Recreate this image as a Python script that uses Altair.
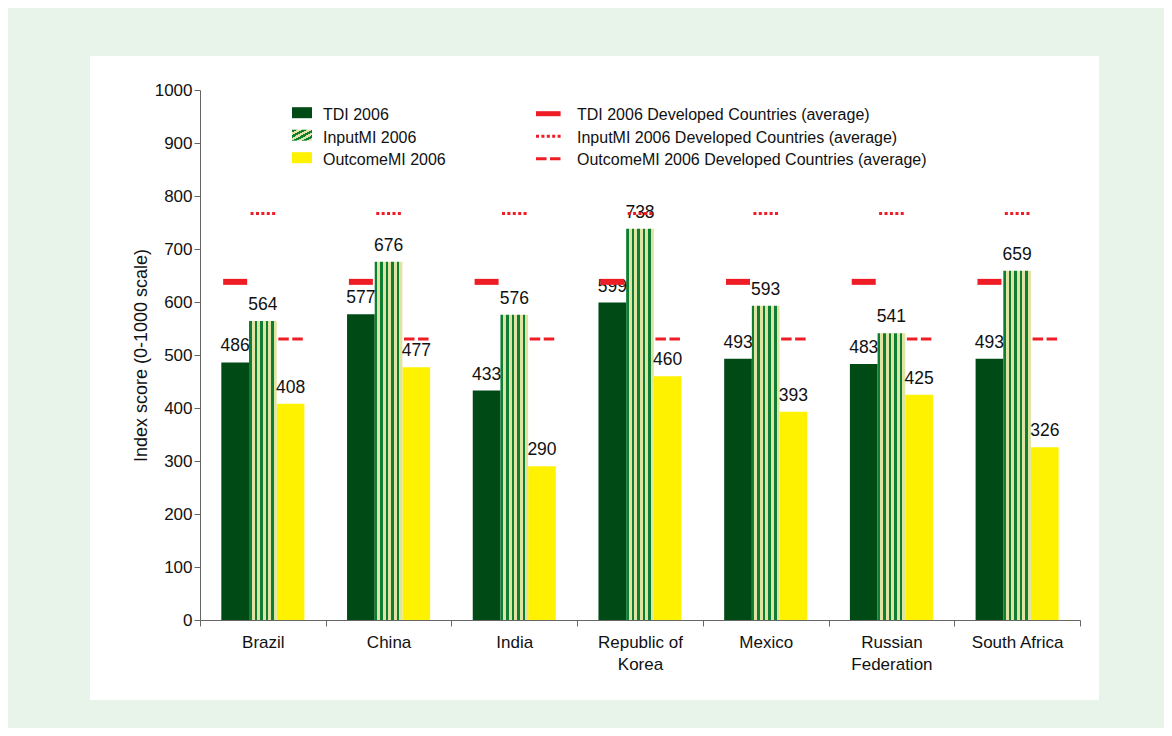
import altair as alt
import pandas as pd

# ---------------- data ----------------
countries = ["Brazil", "China", "India", "Republic of Korea", "Mexico",
             "Russian Federation", "South Africa"]
series = ["TDI 2006", "InputMI 2006", "OutcomeMI 2006"]
tdi = [486, 577, 433, 599, 493, 483, 493]
inputmi = [564, 676, 576, 738, 593, 541, 659]
outcomemi = [408, 477, 290, 460, 393, 425, 326]
dev_series = ["TDI 2006 Developed Countries (average)",
              "InputMI 2006 Developed Countries (average)",
              "OutcomeMI 2006 Developed Countries (average)"]
dev_values = [638, 767, 530]
y_ticks = list(range(0, 1001, 100))

# ---------------- style ----------------
W, H = 880, 530
PAD = 0.77
FONT = "Liberation Sans"
RED = "#ee1c25"
DARK = "#004b15"
YELLOW = "#fff200"
STRIPE = "#0f7d33"
PALE = "#dfe4a3"
TXT = "#111111"
AXC = "#666666"

rows = []
for i, c in enumerate(countries):
    for s, vals in zip(series, [tdi, inputmi, outcomemi]):
        rows.append({"country": c, "series": s, "value": vals[i]})
bars_df = pd.DataFrame(rows)
dev_df = pd.DataFrame([{"country": c, "series": s, "value": v}
                       for c in countries for s, v in zip(dev_series, dev_values)])
one = pd.DataFrame({"k": [0]})


def stripes(n, frac, x2, y2):
    stops = []
    for k in range(n):
        a = k / n
        b = a + frac / n
        e = (k + 1) / n
        stops += [alt.GradientStop(offset=a, color=STRIPE),
                  alt.GradientStop(offset=b, color=STRIPE),
                  alt.GradientStop(offset=b, color=PALE),
                  alt.GradientStop(offset=e, color=PALE)]
    return alt.LinearGradient(gradient="linear", stops=stops, x1=0, y1=0, x2=x2, y2=y2)


label_expr = ("datum.label == 'Republic of Korea' ? ['Republic of', 'Korea'] : "
              "datum.label == 'Russian Federation' ? ['Russian', 'Federation'] : datum.label")

x_scale = alt.Scale(domain=countries, paddingInner=0, paddingOuter=0)
x_axis = alt.Axis(tickBand="extent", labelExpr=label_expr, labelAngle=0, labelPadding=8,
                  labelLineHeight=22, tickSize=6, domainColor=AXC, tickColor=AXC,
                  labelFontSize=17, labelColor=TXT, labelFont=FONT, zindex=1, title=None)
y_scale = alt.Scale(domain=[0, 1000], nice=False)
y_axis = alt.Axis(values=y_ticks, format="d", grid=False, title="Index score (0-1000 scale)",
                  tickSize=6, domainColor=AXC, tickColor=AXC, labelFontSize=17,
                  labelColor=TXT, labelFont=FONT, titleFont=FONT, titleFontSize=18,
                  titleFontWeight="normal", titleColor=TXT, titlePadding=4, zindex=1)

X = alt.X("country:N", scale=x_scale, axis=x_axis)
XO = alt.XOffset("series:N", scale=alt.Scale(domain=series, paddingInner=0, paddingOuter=PAD))
Y = alt.Y("value:Q", scale=y_scale, axis=y_axis)

panel = alt.Chart(one).mark_rect(color="white").encode(
    x=alt.value(-110), x2=alt.value(899), y=alt.value(-34), y2=alt.value(610))

base = alt.Chart(bars_df)
solid_bars = base.transform_filter(
    alt.FieldOneOfPredicate(field="series", oneOf=[series[0], series[2]])
).mark_bar().encode(
    x=X, xOffset=XO, y=Y,
    color=alt.Color("series:N", scale=alt.Scale(domain=series, range=[DARK, STRIPE, YELLOW]),
                    legend=None))
striped_bars = base.transform_filter(
    alt.FieldEqualPredicate(field="series", equal=series[1])
).mark_bar(fill=stripes(5, 0.46, 1, 0)).encode(x=X, xOffset=XO, y=Y)

labels = base.mark_text(dy=-11, baseline="alphabetic", fontSize=17.5, font=FONT,
                        color=TXT).encode(x=X, xOffset=XO, y=Y, text="value:Q")

step_frac = 1.0 / (3 + 2 * PAD)
step_px = W / len(countries)
rule_styles = [
    dict(strokeWidth=6, half=12.0),
    dict(strokeWidth=3, strokeDash=[3, 2.4], half=12.3),
    dict(strokeWidth=3, strokeDash=[10.5, 3.5], half=12.25),
]
rule_layers = []
for j, (s, st) in enumerate(zip(dev_series, rule_styles)):
    c = (PAD + j + 0.5) * step_frac
    hw = st["half"] / step_px
    kw = {k: v for k, v in st.items() if k != "half"}
    rule_layers.append(
        alt.Chart(dev_df).transform_filter(alt.FieldEqualPredicate(field="series", equal=s))
        .mark_rule(color=RED, **kw)
        .encode(x=alt.X("country:N", scale=x_scale, axis=x_axis, bandPosition=c - hw),
                x2=alt.X2("country", bandPosition=c + hw),
                y=Y))

# ---------------- legend (manual, two columns) ----------------
legend_layers = []
row0, row_gap = 22.7, 22.5
swatch_fills = [DARK, stripes(4, 0.5, 1, 1), YELLOW]
for i, s in enumerate(series):
    yc = row0 + i * row_gap
    legend_layers.append(alt.Chart(one).mark_rect(fill=swatch_fills[i]).encode(
        x=alt.value(92), x2=alt.value(112), y=alt.value(yc - 5.5), y2=alt.value(yc + 5.5)))
    legend_layers.append(alt.Chart(one).mark_text(
        align="left", baseline="alphabetic", fontSize=16, font=FONT, color=TXT, text=s
    ).encode(x=alt.value(123), y=alt.value(yc + 7.3)))
for i, (s, st) in enumerate(zip(dev_series, rule_styles)):
    yc = row0 + i * row_gap + 1
    kw = {k: v for k, v in st.items() if k != "half"}
    if i == 0:
        kw["strokeWidth"] = 5
    legend_layers.append(alt.Chart(one).mark_rule(color=RED, **kw).encode(
        x=alt.value(336), x2=alt.value(360.6), y=alt.value(yc)))
    legend_layers.append(alt.Chart(one).mark_text(
        align="left", baseline="alphabetic", fontSize=16, font=FONT, color=TXT, text=s
    ).encode(x=alt.value(377), y=alt.value(yc + 6.3)))

chart = alt.layer(
    panel, solid_bars, striped_bars, labels, *rule_layers, *legend_layers
).properties(
    width=W, height=H,
    autosize=alt.AutoSizeParams(type="none"),
    padding={"left": 192, "top": 82, "right": 84, "bottom": 108},
    background="#e8f3ea",
).configure_view(stroke="transparent")

chart.save("out.html", embed_options={"renderer": "svg", "actions": False})
